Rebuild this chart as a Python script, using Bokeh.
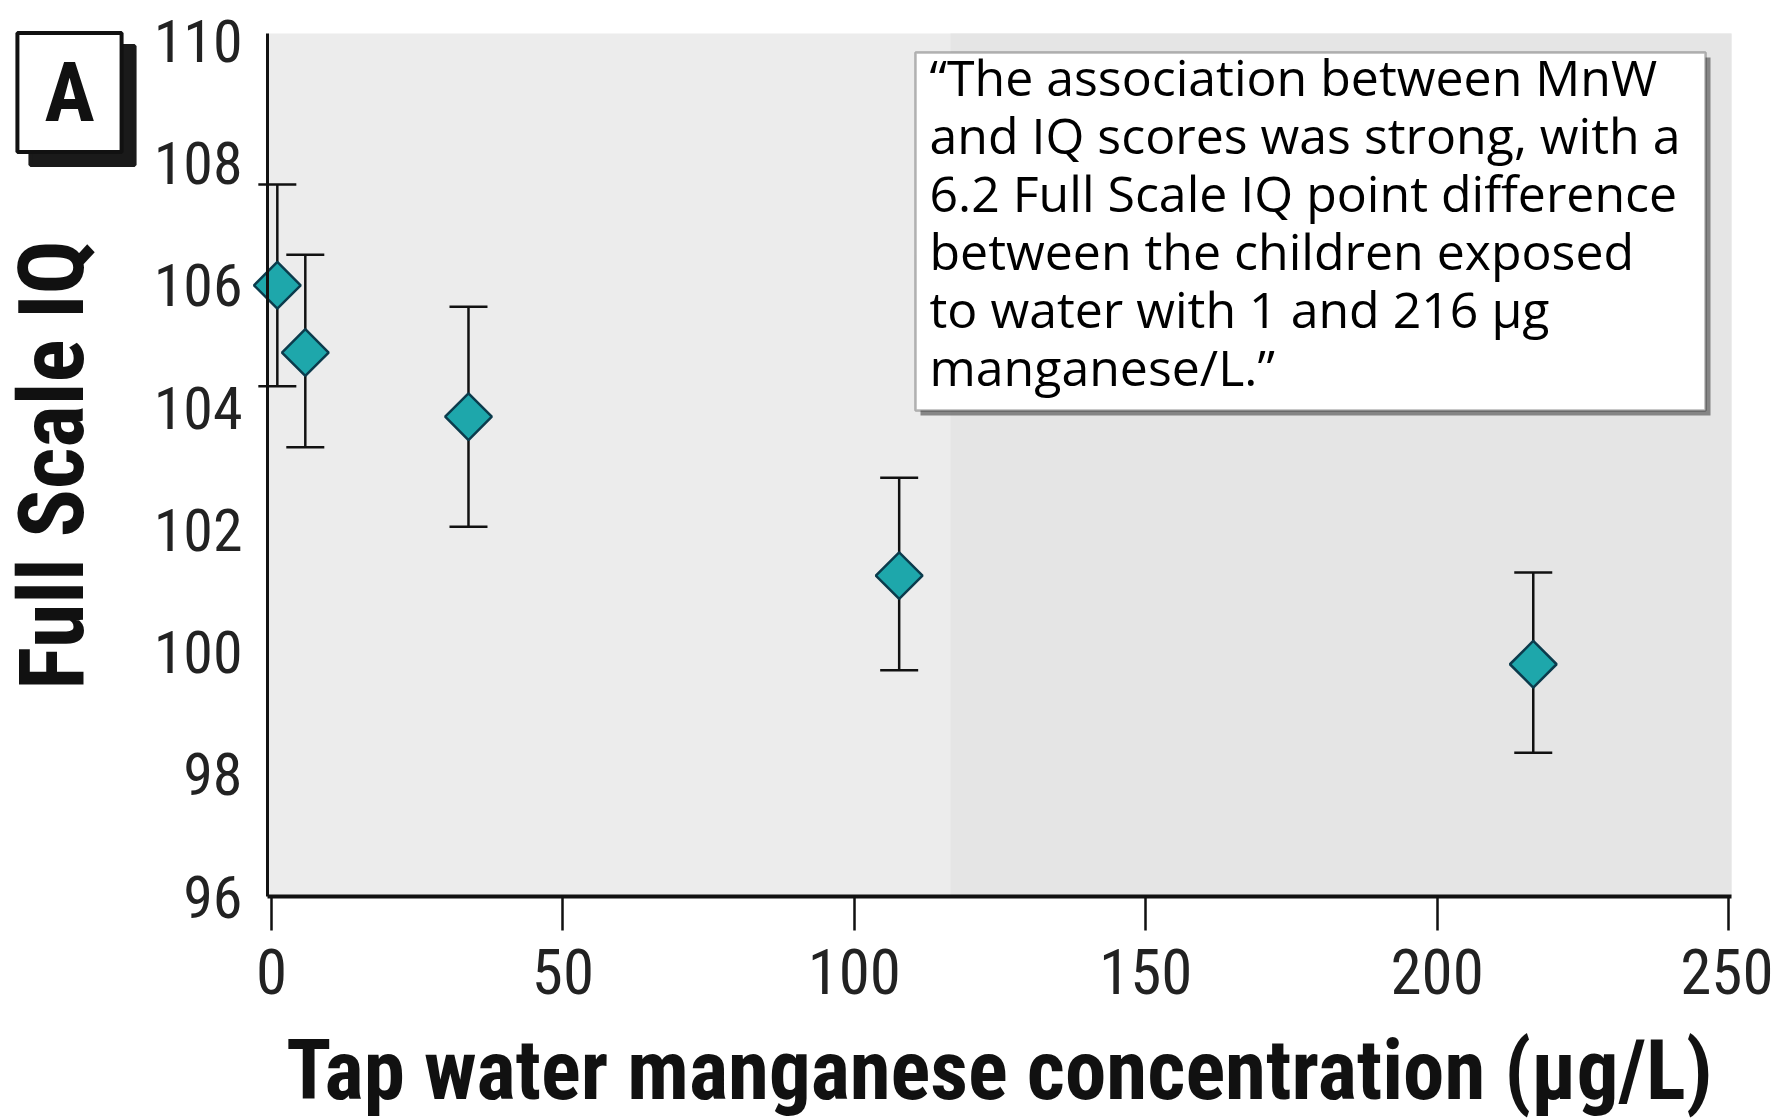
import numpy as np
from bokeh.plotting import figure
from bokeh.models import (Range1d, FixedTicker, ColumnDataSource, Whisker, TeeHead,
                          BoxAnnotation, Label)
from bokeh.embed import file_html
from bokeh.resources import INLINE

# ---------------- data ----------------
mn_conc = [1.0, 5.8, 33.8, 107.7, 216.5]          # µg/L
iq_mean = [106.0, 104.9, 103.85, 101.25, 99.8]
iq_lower = [104.35, 103.35, 102.05, 99.7, 98.35]
iq_upper = [107.65, 106.5, 105.65, 102.85, 101.3]
x_ticks = [0, 50, 100, 150, 200, 250]
y_ticks = [96, 98, 100, 102, 104, 106, 108, 110]
grid_ticks = [106, 108]
x_title = "Tap water manganese concentration (µg/L)"
y_title = "Full Scale IQ"
panel_letter = "A"
quote_lines = [
    "\u201cThe association between MnW",
    "and IQ scores was strong, with a",
    "6.2 Full Scale IQ point difference",
    "between the children exposed",
    "to water with 1 and 216 µg",
    "manganese/L.\u201d",
]

# ---------------- geometry (page pixels) ----------------
W, H = 1773, 1120
PX0, PX250 = 271, 1728          # page x of x=0 and x=250
PY96, PPY = 896, 61.12          # page y of y=96 and px per IQ point
ppx = (PX250 - PX0) / 250.0

def dx(page_x):
    return (page_x - PX0) / ppx

def dy(page_y):
    return 96 + (PY96 - page_y) / PPY

# the whole canvas is the frame; the axes sit at fixed data locations
XR0, XR1 = dx(0), dx(W)
YR0, YR1 = dy(H), dy(0)
PANEL_X0, PANEL_X1 = dx(267), dx(1731)
PANEL_Y0, PANEL_Y1 = 96.0, dy(33)

NARROW = "'Roboto Condensed', 'Liberation Sans', sans-serif"

p = figure(width=W, height=H, output_backend="svg", toolbar_location=None,
           x_range=Range1d(XR0, XR1), y_range=Range1d(YR0, YR1),
           min_border_left=0, min_border_right=0,
           min_border_top=0, min_border_bottom=0)
p.title.visible = False
p.outline_line_color = None
p.background_fill_color = "white"
p.border_fill_color = "white"
p.xgrid.visible = False
p.ygrid.visible = False

# grey plotting panel (lighter left part, darker right part as in the scan)
p.add_layout(BoxAnnotation(left=PANEL_X0, right=PANEL_X1, bottom=PANEL_Y0, top=PANEL_Y1,
                           fill_color="#ececec", fill_alpha=1.0, line_color=None,
                           level="underlay"))
p.add_layout(BoxAnnotation(left=dx(950), right=PANEL_X1, bottom=PANEL_Y0, top=PANEL_Y1,
                           fill_color="#e5e5e5", fill_alpha=1.0, line_color=None,
                           level="underlay"))

# white horizontal grid lines
gl = p.segment(x0=[PANEL_X0] * len(grid_ticks), x1=[PANEL_X1] * len(grid_ticks),
               y0=grid_ticks, y1=grid_ticks, line_color="white", line_width=4)
gl.level = "underlay"

# axes
xa = p.xaxis[0]
xa.fixed_location = 96
xa.bounds = (PANEL_X0, PANEL_X1)
xa.ticker = FixedTicker(ticks=x_ticks)
xa.axis_line_width = 4
xa.axis_line_color = "#111111"
xa.major_tick_out = 34
xa.major_tick_in = 0
xa.major_tick_line_width = 2.5
xa.major_tick_line_color = "#111111"
xa.minor_tick_line_color = None
xa.major_label_text_font = NARROW
xa.major_label_text_font_size = "63px"
xa.major_label_text_color = "#222222"
xa.major_label_standoff = 18
xa.axis_label = x_title
xa.axis_label_text_font = NARROW
xa.axis_label_text_font_style = "bold"
xa.axis_label_text_font_size = "83px"
xa.axis_label_text_color = "#111111"
xa.axis_label_standoff = 25

ya = p.yaxis[0]
ya.fixed_location = PANEL_X0
ya.bounds = (PANEL_Y0, PANEL_Y1)
ya.ticker = FixedTicker(ticks=y_ticks)
ya.axis_line_width = 3
ya.axis_line_color = "#111111"
ya.major_tick_out = 0
ya.major_tick_in = 0
ya.minor_tick_line_color = None
ya.major_label_text_font = NARROW
ya.major_label_text_font_size = "60px"
ya.major_label_text_color = "#222222"
ya.major_label_standoff = 25
ya.axis_label = y_title
ya.axis_label_text_font = NARROW
ya.axis_label_text_font_style = "bold"
ya.axis_label_text_font_size = "90px"
ya.axis_label_text_color = "#111111"
ya.axis_label_standoff = 46

# error bars
src = ColumnDataSource(dict(x=mn_conc, y=iq_mean, lo=iq_lower, hi=iq_upper))
wh = Whisker(source=src, base="x", lower="lo", upper="hi",
             line_color="#111111", line_width=2.5,
             upper_head=TeeHead(size=38, line_width=2.5, line_color="#111111"),
             lower_head=TeeHead(size=38, line_width=2.5, line_color="#111111"))
p.add_layout(wh)

# diamond markers
p.scatter("x", "y", source=src, marker="square", angle=np.pi / 4, size=33,
          fill_color="#1ea7ab", line_color="#0b3b4c", line_width=2.5)

# quote box with drop shadow
sh = 5
p.add_layout(BoxAnnotation(left=dx(915 + sh), right=dx(1705 + sh),
                           top=dy(52 + sh), bottom=dy(410 + sh),
                           fill_color="#444444", fill_alpha=0.6, line_color=None))
p.add_layout(BoxAnnotation(left=dx(915), right=dx(1705), top=dy(52), bottom=dy(410),
                           fill_color="white", fill_alpha=1.0,
                           line_color="#111111", line_width=2.5))
for i, line in enumerate(quote_lines):
    p.add_layout(Label(x=dx(929), y=dy(76 + 58 * i), text=line,
                       text_font="Open Sans", text_font_size="50px",
                       text_color="black", text_baseline="alphabetic",
                       text_align="left"))

# panel letter "A" in a box with a heavy drop shadow
pad = dict(left=27, right=27, top=10, bottom=10)
p.add_layout(Label(x=dx(69 + 13), y=dy(92 + 13), text=panel_letter,
                   text_font=NARROW, text_font_style="bold", text_font_size="84px",
                   text_color="#1a1a1a", text_align="center", text_baseline="middle",
                   background_fill_color="#1a1a1a", border_line_color="#1a1a1a",
                   border_line_width=4, padding=pad))
p.add_layout(Label(x=dx(69), y=dy(92), text=panel_letter,
                   text_font=NARROW, text_font_style="bold", text_font_size="84px",
                   text_color="#111111", text_align="center", text_baseline="middle",
                   background_fill_color="white", border_line_color="#111111",
                   border_line_width=4, padding=pad))

open("out.html", "w").write(file_html(p, INLINE))
